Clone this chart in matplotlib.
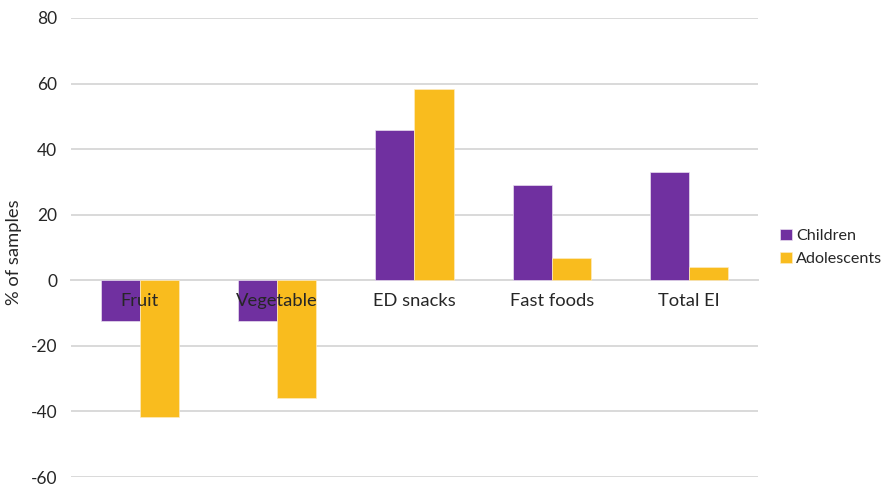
import matplotlib
matplotlib.use("Agg")
import matplotlib.pyplot as plt
import numpy as np

categories = ["Fruit", "Vegetable", "ED snacks", "Fast foods", "Total EI"]
children = [-12.3, -12.3, 45.8, 29.1, 33.1]
adolescents = [-41.6, -35.9, 58.3, 6.9, 4.2]
series_names = ["Children", "Adolescents"]
colors = ["#7030A0", "#F9BC1E"]
yticks = [-60, -40, -20, 0, 20, 40, 60, 80]

plt.rcParams['font.family'] = ['Lato', 'DejaVu Sans']

fig = plt.figure(figsize=(8.87, 4.86), dpi=100)
ax = fig.add_axes([71/887, 9/486, (758-71)/887, (478-19)/486])

x = np.arange(len(categories))
w = 0.284
ax.bar(x - w/2, children, w, color=colors[0], label=series_names[0], zorder=3,
       edgecolor="#e8def0", linewidth=0.5)
ax.bar(x + w/2, adolescents, w, color=colors[1], label=series_names[1], zorder=3,
       edgecolor="#fdebc0", linewidth=0.5)

ax.set_xlim(-0.5, len(categories) - 0.5)
ax.set_ylim(-60, 80)
ax.set_yticks(yticks)
ax.set_yticklabels([str(t) for t in yticks], fontsize=12.5, color="#262626")
ax.grid(axis='y', color="#D9D9D9", linewidth=1.4, zorder=0)
ax.set_axisbelow(True)
for s in ['top', 'right', 'left']:
    ax.spines[s].set_visible(False)
ax.spines['bottom'].set_position(('data', 0))
ax.spines['bottom'].set_color("#D9D9D9")
ax.spines['bottom'].set_linewidth(1.4)
ax.spines['bottom'].set_zorder(2)
ax.tick_params(axis='y', length=0, pad=10)
ax.tick_params(axis='x', length=0, pad=9)
ax.set_xticks(x)
ax.set_xticklabels(categories, fontsize=13.2, color="#262626")
ax.xaxis.set_zorder(5)
ax.set_ylabel("% of samples", fontsize=13.2, color="#262626", labelpad=6)
ax.yaxis.label.set_y(0.49)

leg = ax.legend(loc='center left', bbox_to_anchor=(1.016, 0.5), frameon=False,
                fontsize=11.6, handlelength=0.7, handleheight=0.7,
                handletextpad=0.3, labelspacing=0.55, borderaxespad=0.3)
for t in leg.get_texts():
    t.set_color("#262626")

fig.savefig("out.png", dpi=100)
